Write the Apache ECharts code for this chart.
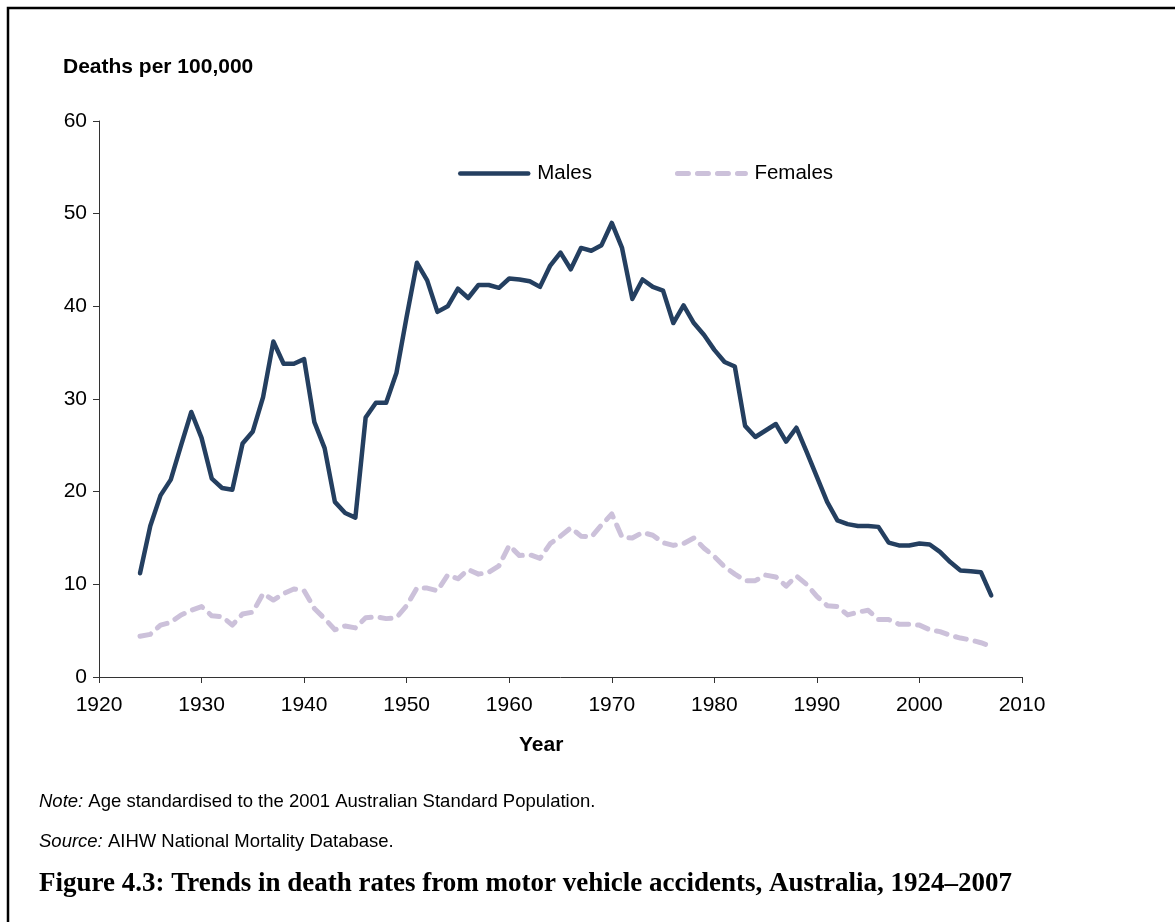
<!DOCTYPE html>
<html>
<head>
<meta charset="utf-8">
<script src="https://cdn.jsdelivr.net/npm/echarts@6/dist/echarts.min.js"></script>
<style>
  html, body { margin: 0; padding: 0; background: #fff; }
  #chart { width: 1175px; height: 922px; }
</style>
</head>
<body>
<div id="chart"></div>
<script>
// years 1924-2007
var years = [];
for (var y = 1924; y <= 2007; y++) years.push(y);

var males = [
  11.2, 16.3, 19.6, 21.3, 25.0, 28.6, 25.8, 21.4, 20.4, 20.2,
  25.2, 26.5, 30.2, 36.2, 33.8, 33.8, 34.3, 27.5, 24.7, 18.9,
  17.7, 17.2, 28.0, 29.6, 29.6, 32.8, 38.9, 44.7, 42.8, 39.4,
  40.0, 41.9, 40.9, 42.3, 42.3, 42.0, 43.0, 42.9, 42.7, 42.1,
  44.4, 45.8, 44.0, 46.3, 46.0, 46.6, 49.0, 46.3, 40.8, 42.9,
  42.1, 41.7, 38.2, 40.1, 38.2, 36.9, 35.3, 34.0, 33.5, 27.1,
  25.9, 26.6, 27.3, 25.4, 26.9, 24.3, 21.6, 18.9, 16.9, 16.5,
  16.3, 16.3, 16.2, 14.5, 14.2, 14.2, 14.4, 14.3, 13.5, 12.4,
  11.5, 11.4, 11.3, 8.8
];

var females = [
  4.4, 4.6, 5.6, 5.9, 6.7, 7.2, 7.6, 6.6, 6.5, 5.6,
  6.8, 7.0, 9.0, 8.3, 9.0, 9.5, 9.3, 7.4, 6.3, 5.1,
  5.5, 5.3, 6.4, 6.5, 6.3, 6.4, 7.7, 9.6, 9.6, 9.3,
  11.0, 10.6, 11.6, 11.1, 11.3, 12.0, 14.2, 13.1, 13.2, 12.8,
  14.4, 15.2, 16.1, 15.2, 15.1, 16.4, 17.6, 15.1, 15.0, 15.6,
  15.3, 14.5, 14.2, 14.4, 15.0, 13.9, 13.0, 11.9, 11.1, 10.4,
  10.4, 11.0, 10.8, 9.8, 10.9, 10.0, 8.7, 7.7, 7.6, 6.7,
  7.0, 7.2, 6.2, 6.2, 5.7, 5.7, 5.6, 5.1, 4.9, 4.5,
  4.2, 4.0, 3.7, 3.3
];

var maleColor = '#243F60';
var femaleColor = '#CCC1DA';

function pairs(vals) {
  return years.map(function (yr, i) { return [yr, vals[i]]; });
}

var chart = echarts.init(document.getElementById('chart'));
var labelFont = 'Liberation Sans, Arial, sans-serif';

var option = {
  animation: false,
  backgroundColor: '#fff',
  grid: { left: 99, right: 153, top: 121, bottom: 245, containLabel: false },
  legend: {
    top: 163,
    left: 458,
    padding: 0,
    itemWidth: 68,
    itemHeight: 24,
    itemGap: 83,
    itemStyle: { opacity: 0 },
    textStyle: { fontFamily: labelFont, fontSize: 20.5, color: '#000', padding: [0, 0, 0, 4] },
    data: [
      { name: 'Males', lineStyle: { width: 4.5, cap: 'round' } },
      { name: 'Females', lineStyle: { width: 5, type: [11, 9], cap: 'round' } }
    ]
  },
  xAxis: {
    type: 'value',
    min: 1920,
    max: 2010,
    interval: 10,
    axisLine: { lineStyle: { color: '#333', width: 1 } },
    axisTick: { show: true, length: 6, lineStyle: { color: '#333' } },
    axisLabel: {
      fontFamily: labelFont, fontSize: 21, color: '#000', margin: 18,
      formatter: function (v) { return String(v); }
    },
    splitLine: { show: false }
  },
  yAxis: {
    type: 'value',
    min: 0,
    max: 60,
    interval: 10,
    axisLine: { show: true, lineStyle: { color: '#333', width: 1 } },
    axisTick: { show: true, length: 6, lineStyle: { color: '#333' } },
    axisLabel: { fontFamily: labelFont, fontSize: 21, color: '#000', margin: 12 },
    splitLine: { show: false }
  },
  graphic: [
    { type: 'polyline', shape: { points: [[8, 1200], [8, 8], [1200, 8]] },
      style: { stroke: '#000', lineWidth: 2.5, fill: null } },
    { type: 'text', left: 63, top: 57,
      style: { text: 'Deaths per 100,000', font: 'bold 21px ' + labelFont, fill: '#000' } },
    { type: 'text', left: 519, top: 735,
      style: { text: 'Year', font: 'bold 21px ' + labelFont, fill: '#000' } },
    { type: 'text', left: 39, top: 792,
      style: {
        text: '{i|Note:} Age standardised to the 2001 Australian Standard Population.',
        font: '18.5px ' + labelFont, fill: '#000',
        rich: { i: { fontStyle: 'italic', fontSize: 18.5, fontFamily: labelFont } }
      } },
    { type: 'text', left: 39, top: 832,
      style: {
        text: '{i|Source:} AIHW National Mortality Database.',
        font: '18.5px ' + labelFont, fill: '#000',
        rich: { i: { fontStyle: 'italic', fontSize: 18.5, fontFamily: labelFont } }
      } },
    { type: 'text', left: 39, top: 871,
      style: {
        text: 'Figure 4.3: Trends in death rates from motor vehicle accidents, Australia, 1924\u20132007',
        font: 'bold 27px "Liberation Serif", serif', fill: '#000'
      } }
  ],
  series: [
    {
      name: 'Males',
      type: 'line',
      data: pairs(males),
      symbol: 'none',
      color: maleColor,
      lineStyle: { color: maleColor, width: 4.5, cap: 'round', join: 'round' }
    },
    {
      name: 'Females',
      type: 'line',
      data: pairs(females),
      symbol: 'none',
      color: femaleColor,
      lineStyle: { color: femaleColor, width: 5, type: [11, 9], cap: 'round', join: 'round' }
    }
  ]
};

chart.setOption(option);
</script>
</body>
</html>
